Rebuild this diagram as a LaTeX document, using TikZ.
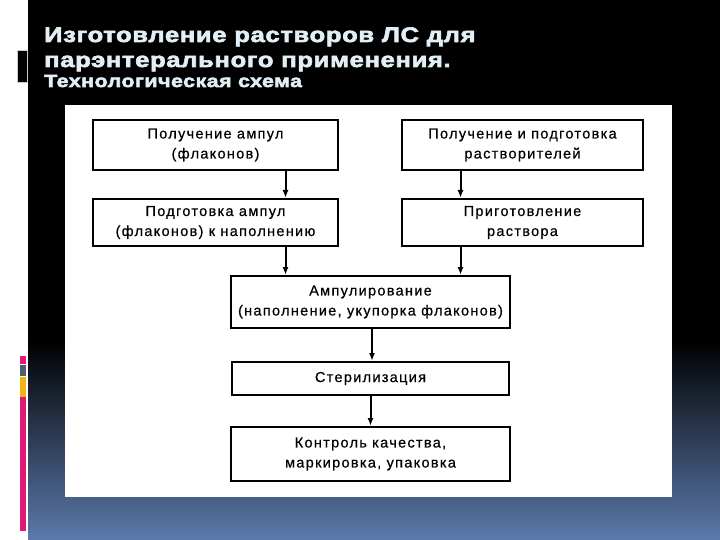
\documentclass[tikz,border=0pt]{standalone}
\usepackage{xcolor}
\usepackage{fontspec}
\setmainfont{Liberation Sans}
\newfontfamily\titlefont[FakeBold=3, FakeStretch=1.22, LetterSpace=3]{Liberation Sans}
\newfontfamily\boxfont[FakeBold=0.5, LetterSpace=9]{Liberation Sans}
\usetikzlibrary{
    arrows.meta,
    positioning
}
\definecolor{slidepink}{HTML}{E01A78}
\definecolor{slidegray}{HTML}{4F5F6E}
\definecolor{slideyellow}{HTML}{F2B316}
\definecolor{slideblue}{RGB}{92,122,172}
\definecolor{titlewhite}{HTML}{E2F0F6}

\begin{document}
\begin{tikzpicture}[
x=1pt, y=-1pt,
box/.style={
draw,
line width=2pt,
minimum width=245pt,
minimum height=50pt,
align=center,
font=\boxfont\fontsize{14.5}{20}\selectfont
},
heading/.style={
anchor=base west,
inner sep=0pt,
text=titlewhite
}
]

\useasboundingbox (0,0) rectangle (720,540);

% slide background
\fill[black] (0,0) rectangle (720,340);
\shade[top color=black, bottom color=slideblue] (0,340) rectangle (720,540);
\fill[white] (0,0) rectangle (28,540);
\fill[black, draw=gray!40] (17,50) rectangle (27,82);
\fill[slidepink] (20,356) rectangle (26,364);
\fill[slidegray] (20,365) rectangle (26,376);
\fill[slideyellow] (20,377) rectangle (26,397);
\fill[slidepink] (20,397) rectangle (26,531);
\fill[white] (65,105) rectangle (672,497);

\node[heading, font=\titlefont\bfseries\fontsize{21}{25}\selectfont] (title1)
at (44,42) {Изготовление растворов ЛС для};
\node[heading, font=\titlefont\bfseries\fontsize{21}{25}\selectfont] (title2)
at (44,67) {парэнтерального применения.};
\node[heading, font=\titlefont\bfseries\fontsize{17.5}{20}\selectfont] (title3)
at (44,87) {Технологическая схема};

% flow chart
\node[box] (ampuly)
at (215.5,145) {Получение ампул\\(флаконов)};

\node[box, minimum width=241pt] (rastvoritel)
at (522.5,145) {Получение и подготовка\\растворителей};

\node[box, minimum height=47pt,
below=27pt of ampuly] (podgotovka)
{Подготовка ампул\\(флаконов) к наполнению};

\node[box, minimum width=241pt, minimum height=47pt,
below=27pt of rastvoritel] (rastvor)
{Приготовление\\раствора};

\node[box, minimum width=279pt, minimum height=52pt] (ampulirovanie)
at (370.5,302) {Ампулирование\\(наполнение, укупорка флаконов)};

\node[box, minimum width=277pt, minimum height=33pt,
below=32pt of ampulirovanie] (sterilizacia)
{Стерилизация};

\node[box, minimum width=279pt, minimum height=54pt,
below=30pt of sterilizacia] (kontrol)
{Контроль качества,\\маркировка, упаковка};

\draw[-{Latex[length=8pt,width=6pt]}, line width=2pt]
([xshift=70pt]ampuly.south) -- ([xshift=70pt]podgotovka.north);

\draw[-{Latex[length=8pt,width=6pt]}, line width=2pt]
([xshift=-62pt]rastvoritel.south) -- ([xshift=-62pt]rastvor.north);

\draw[-{Latex[length=8pt,width=6pt]}, line width=2pt]
([xshift=70pt]podgotovka.south) -- ([xshift=70pt]podgotovka.south |- ampulirovanie.north);

\draw[-{Latex[length=8pt,width=6pt]}, line width=2pt]
([xshift=-62pt]rastvor.south) -- ([xshift=-62pt]rastvor.south |- ampulirovanie.north);

\draw[-{Latex[length=8pt,width=6pt]}, line width=2pt]
([xshift=1.5pt]ampulirovanie.south) -- ([xshift=1.5pt]ampulirovanie.south |- sterilizacia.north);

\draw[-{Latex[length=8pt,width=6pt]}, line width=2pt]
(sterilizacia.south) -- (sterilizacia.south |- kontrol.north);

\end{tikzpicture}
\end{document}
